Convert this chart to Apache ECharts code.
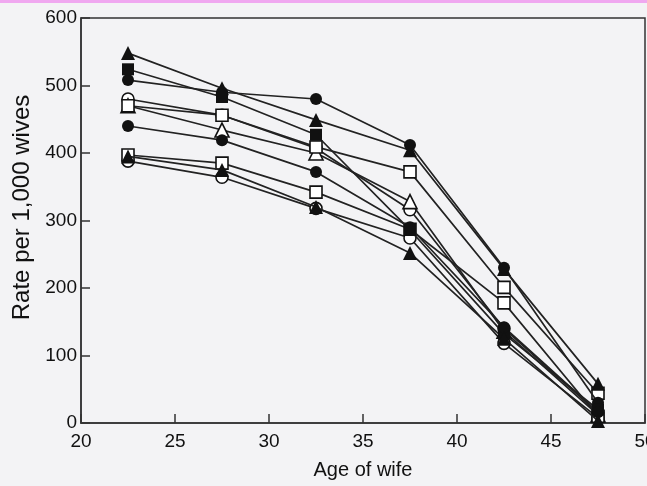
<!DOCTYPE html>
<html><head><meta charset="utf-8">
<script src="https://cdn.jsdelivr.net/npm/echarts@6/dist/echarts.min.js"></script>
<style>html,body{margin:0;padding:0;background:#f3f3f5;}#c{width:647px;height:486px;}</style>
</head><body><div id="c"></div>
<script>
const ages = [22.5, 27.5, 32.5, 37.5, 42.5, 47.5];
const xTicks = [20, 25, 30, 35, 40, 45, 50];
const yTicks = [0, 100, 200, 300, 400, 500, 600];
const s1 = [548, 496, 449, 404, 228, 58];   // filled triangle
const s2 = [508, 490, 480, 412, 230, 30];   // filled circle
const s3 = [524, 483, 427, 286, 132, 20];   // filled square
const s4 = [480, 456, 407, 316, 140, 15];   // open circle
const s5 = [470, 456, 409, 372, 201, 44];   // open square
const s6 = [470, 434, 400, 328, 136, 12];   // open triangle
const s7 = [440, 419, 372, 290, 142, 16];   // filled circle
const s8 = [397, 385, 342, 287, 178, 10];   // open square
const s9 = [395, 375, 320, 252, 125, 3];    // filled triangle
const s10 = [388, 364, 318, 274, 118, 8];   // open circle

const seriesDefs = [
  [s1, 'triangle', true], [s2, 'circle', true], [s3, 'rect', true],
  [s4, 'circle', false], [s5, 'rect', false], [s6, 'triangle', false],
  [s7, 'circle', true], [s8, 'rect', false], [s9, 'triangle', true], [s10, 'circle', false]
];
const zOf = {circle: 2, triangle: 3, rect: 4};
const font = "'Liberation Sans',Arial,sans-serif";
const chart = echarts.init(document.getElementById('c'));
chart.setOption({
  backgroundColor: '#f3f3f5',
  animation: false,
  grid: {left: 81, right: 2, top: 18, bottom: 63, show: true, borderColor: '#333', borderWidth: 1.5,
         outerBoundsMode: 'none', containLabel: false},
  xAxis: {type: 'value', min: 20, max: 50, interval: 5,
    name: 'Age of wife', nameLocation: 'middle', nameGap: 37,
    nameTextStyle: {fontFamily: font, fontSize: 20, color: '#111'},
    axisLine: {lineStyle: {color: '#333', width: 1.5}},
    axisTick: {inside: true, length: 9, lineStyle: {color: '#333', width: 1.5}},
    axisLabel: {fontFamily: font, fontSize: 19, color: '#111', margin: 9},
    splitLine: {show: false}},
  yAxis: {type: 'value', min: 0, max: 600, interval: 100,
    name: 'Rate per 1,000 wives', nameLocation: 'middle', nameGap: 45,
    nameTextStyle: {fontFamily: font, fontSize: 24, color: '#111', padding: [0, 0, 0, 26]},
    axisLine: {lineStyle: {color: '#333', width: 1.5}},
    axisTick: {inside: true, length: 9, lineStyle: {color: '#333', width: 1.5}},
    axisLabel: {fontFamily: font, fontSize: 19, color: '#111', margin: 4},
    splitLine: {show: false}},
  series: seriesDefs.map(([d, sym, filled]) => ({
    type: 'line', data: ages.map((a, i) => [a, d[i]]),
    symbol: sym, symbolSize: sym === 'triangle' ? 14 : 12,
    lineStyle: {color: '#222', width: 1.7},
    itemStyle: {color: filled ? '#111' : '#fff', borderColor: '#111', borderWidth: filled ? 0 : 1.6},
    z: filled ? 6 : zOf[sym]
  }))
});
</script>
<div style="position:absolute;left:0;top:0;width:647px;height:3px;background:#f0a8f0;"></div>
</body></html>
